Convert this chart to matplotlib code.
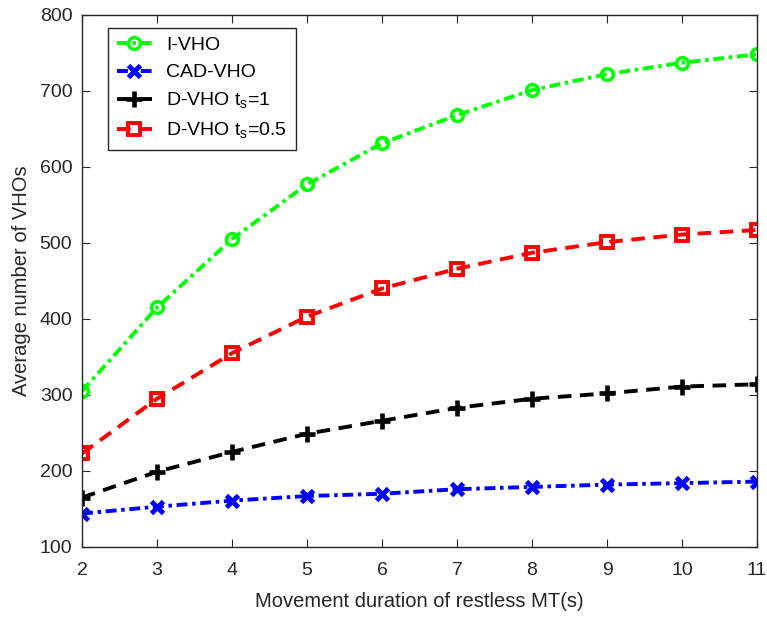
import matplotlib.pyplot as plt

plt.rcParams['font.family'] = ['Liberation Sans', 'DejaVu Sans']

# movement duration (s)
duration = [2, 3, 4, 5, 6, 7, 8, 9, 10, 11]

# average number of VHOs per scheme
i_vho = [305, 415, 505, 577, 631, 668, 701, 722, 737, 748]
cad_vho = [144, 153, 161, 167, 170, 176, 179, 182, 184, 186]
d_vho_ts1 = [165, 199, 225, 249, 266, 283, 295, 302, 311, 314]
d_vho_ts05 = [223, 295, 355, 403, 440, 466, 487, 501, 511, 517]

dashdot = (2.8, 1.2, 0.9, 1.2)
dashed = (3.5, 2.2)

fig = plt.figure(figsize=(7.67, 6.17), dpi=100)
ax = fig.add_axes([0.107, 0.1135, 0.88, 0.8625])

ax.plot(duration, i_vho, color='#00ff00', dashes=dashdot, linewidth=2.8,
        marker='o', markersize=8.5, markerfacecolor='none', markeredgewidth=2.5,
        label='I-VHO')
ax.plot(duration, cad_vho, color='#0000ff', dashes=dashdot, linewidth=2.8,
        marker='x', markersize=8.5, markeredgewidth=3.5, label='CAD-VHO')
ax.plot(duration, d_vho_ts1, color='black', dashes=dashed, linewidth=2.8,
        marker='+', markersize=11, markeredgewidth=3.3, label='D-VHO t$_\\mathregular{s}$=1')
ax.plot(duration, d_vho_ts05, color='#ff0000', dashes=dashed, linewidth=2.8,
        marker='s', markersize=8, markerfacecolor='none', markeredgewidth=2.8,
        label='D-VHO t$_\\mathregular{s}$=0.5')

ax.set_xlim(2, 11)
ax.set_ylim(100, 800)
ax.set_xticks(duration)
ax.set_yticks(range(100, 801, 100))

ax.set_xlabel('Movement duration of restless MT(s)', fontsize=14.5, color='#262626',
              labelpad=9)
ax.set_ylabel('Average number of VHOs', fontsize=14.5, color='#262626', labelpad=6)
ax.tick_params(labelsize=14, colors='#262626', direction='in', length=5.5,
               top=True, right=True, labeltop=False, labelright=False)
ax.tick_params(axis='x', pad=11)
ax.tick_params(axis='y', pad=7)
for s in ax.spines.values():
    s.set_color('#262626')
    s.set_linewidth(1)

leg = ax.legend(loc='upper left', bbox_to_anchor=(0.024, 0.994), fontsize=14,
                handlelength=1.8, handletextpad=0.75, borderpad=0.45,
                labelspacing=0.5, fancybox=False, framealpha=1)
leg.get_frame().set_edgecolor('#262626')
leg.get_frame().set_linewidth(1)

fig.savefig('out.png', dpi=100)
